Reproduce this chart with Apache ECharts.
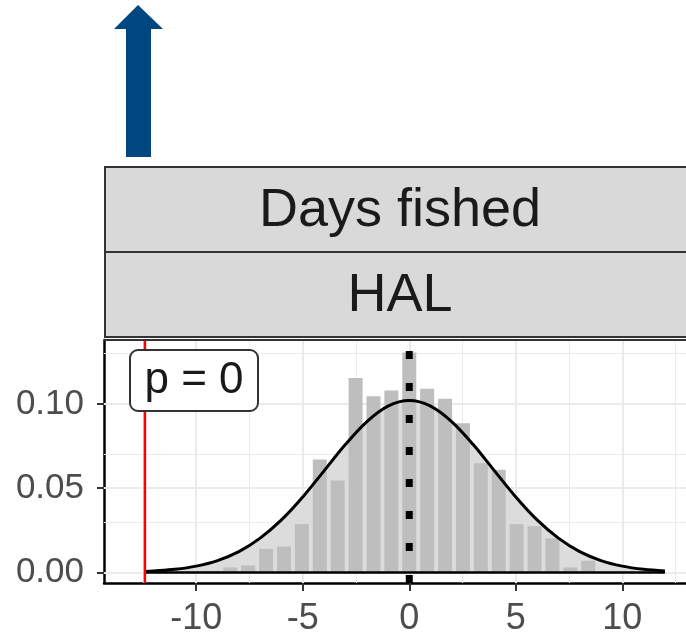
<!DOCTYPE html>
<html>
<head>
<meta charset="utf-8">
<script src="https://cdn.jsdelivr.net/npm/echarts@6/dist/echarts.min.js"></script>
<style>
html,body{margin:0;padding:0;background:#fff;}
#chart{width:686px;height:637px;}
</style>
</head>
<body>
<div id="chart"></div>
<script>
// ---- data ----
const stripLabels = ['Days fished', 'HAL'];
const pLabel = 'p = 0';
const observedValue = -12.41;   // red vertical line
const nullCentre = 0;           // dotted vertical line
const xTicks = [-10, -5, 0, 5, 10];
const xMinor = [-12.5, -7.5, -2.5, 2.5, 7.5, 12.5];
const yTicks = [0, 0.05, 0.10];
const yMinor = [0.025, 0.075, 0.125];
const binCenters = [-9.24, -8.4, -7.56, -6.72, -5.88, -5.04, -4.2, -3.36, -2.52, -1.68, -0.84,
                    0, 0.84, 1.68, 2.52, 3.36, 4.2, 5.04, 5.88, 6.72, 7.56, 8.4];
const binDensity = [0.001, 0.003, 0.0042, 0.014, 0.0154, 0.0287, 0.067, 0.0546, 0.1154, 0.1046, 0.108,
                    0.1305, 0.109, 0.103, 0.0885, 0.0648, 0.061, 0.0287, 0.0275, 0.0203, 0.003, 0.007];
const curveX = [-12.4, -12, -11, -10, -9, -8, -7, -6, -5, -4, -3, -2, -1, 0,
                1, 2, 3, 4, 5, 6, 7, 8, 9, 10, 11, 12];
const curveY = [0.0006, 0.0009, 0.0019, 0.0038, 0.0071, 0.0124, 0.0204, 0.0312, 0.0448, 0.0603, 0.0759, 0.0894, 0.0987, 0.102,
                0.0987, 0.0894, 0.0759, 0.0603, 0.0448, 0.0312, 0.0204, 0.0124, 0.0071, 0.0038, 0.0019, 0.0009];

const FONT = "'Liberation Sans', Arial, sans-serif";
const X_MIN = -14.33, X_MAX = 12.99, Y_MIN = -0.0062, Y_MAX = 0.1379;
const curveData = curveX.map((x, i) => [x, curveY[i]]);
const barData = binCenters.map((x, i) => [x, binDensity[i]]);

const chart = echarts.init(document.getElementById('chart'), null, {renderer: 'canvas'});

const gridLineStyleMajor = {color: '#ebebeb', width: 2, type: 'solid'};
const gridLineStyleMinor = {color: '#ebebeb', width: 1, type: 'solid'};

const option = {
  animation: false,
  backgroundColor: '#ffffff',
  grid: {left: 104, right: 0, top: 340, bottom: 52, show: false},
  xAxis: {
    type: 'value', min: X_MIN, max: X_MAX,
    axisLine: {show: true, onZero: false, lineStyle: {color: '#000', width: 2.5}},
    axisTick: {show: true, customValues: xTicks, length: 8, lineStyle: {color: '#333', width: 2}},
    axisLabel: {show: true, customValues: xTicks, margin: 18, color: '#4d4d4d',
                fontSize: 36, fontFamily: FONT, formatter: v => String(v)},
    splitLine: {show: false}
  },
  yAxis: {
    type: 'value', min: Y_MIN, max: Y_MAX,
    axisLine: {show: true, onZero: false, lineStyle: {color: '#000', width: 2.5}},
    axisTick: {show: true, customValues: yTicks, length: 7, lineStyle: {color: '#333', width: 2}},
    axisLabel: {show: true, customValues: yTicks, margin: 20, color: '#4d4d4d',
                fontSize: 35, fontFamily: FONT, formatter: v => v.toFixed(2)},
    splitLine: {show: false}
  },
  series: [
    { // panel grid lines
      type: 'line', data: [], z: 1, silent: true, symbol: 'none',
      markLine: {
        silent: true, symbol: 'none', z: 1, animation: false, label: {show: false},
        data: [
          ...xTicks.map(v => ({xAxis: v, lineStyle: gridLineStyleMajor})),
          ...xMinor.map(v => ({xAxis: v, lineStyle: gridLineStyleMinor})),
          ...yTicks.map(v => ({yAxis: v, lineStyle: gridLineStyleMajor})),
          ...yMinor.map(v => ({yAxis: v, lineStyle: gridLineStyleMinor}))
        ]
      }
    },
    { // area under fitted density
      type: 'line', data: curveData, z: 2, silent: true, symbol: 'none', smooth: 0.35,
      lineStyle: {width: 0, opacity: 0},
      areaStyle: {color: '#dcdcdc', opacity: 1, origin: 'auto'}
    },
    { // histogram bars
      type: 'bar', data: barData, z: 3, silent: true, barWidth: 14,
      itemStyle: {color: '#bebebe'}
    },
    { // fitted density outline
      type: 'line', data: curveData, z: 4, silent: true, symbol: 'none', smooth: 0.35,
      lineStyle: {color: '#000', width: 3}
    },
    { // baseline of density polygon
      type: 'line', data: [[curveX[0], 0], [curveX[curveX.length - 1], 0]], z: 4, silent: true, symbol: 'none',
      lineStyle: {color: '#000', width: 2.5}
    },
    { // observed value
      type: 'line', data: [[observedValue, Y_MIN], [observedValue, Y_MAX]], z: 5, silent: true, symbol: 'none',
      lineStyle: {color: '#ff0000', width: 2.5}
    },
    { // null centre dotted line
      type: 'line', data: [[nullCentre, Y_MIN], [nullCentre, Y_MAX]], z: 6, silent: true, symbol: 'none',
      lineStyle: {color: '#000', width: 7, type: [8, 24], cap: 'butt'}
    }
  ],
  graphic: [
    { // arrow
      type: 'polygon', z: 100,
      shape: {points: [[138, 5], [163, 29], [151, 29], [151, 157], [126, 157], [126, 29], [114, 29]]},
      style: {fill: '#00467f'}
    },
    { // panel top border
      type: 'line', z: 100, shape: {x1: 104, y1: 340, x2: 690, y2: 340},
      style: {stroke: '#333333', lineWidth: 2}
    },
    {type: 'rect', z: 100, shape: {x: 105, y: 167, width: 620, height: 85},
     style: {fill: '#d9d9d9', stroke: '#333333', lineWidth: 2}},
    {type: 'rect', z: 100, shape: {x: 105, y: 252, width: 620, height: 85},
     style: {fill: '#d9d9d9', stroke: '#333333', lineWidth: 2}},
    {type: 'text', z: 101, x: 400, y: 211,
     style: {text: stripLabels[0], fill: '#1a1a1a', font: '54px ' + FONT, textAlign: 'center', textVerticalAlign: 'middle'}},
    {type: 'text', z: 101, x: 400, y: 296,
     style: {text: stripLabels[1], fill: '#1a1a1a', font: '54px ' + FONT, textAlign: 'center', textVerticalAlign: 'middle'}},
    {type: 'rect', z: 100, shape: {x: 130, y: 350, width: 128, height: 61, r: 8},
     style: {fill: '#ffffff', stroke: '#333333', lineWidth: 2}},
    {type: 'text', z: 101, x: 194, y: 381,
     style: {text: pLabel, fill: '#1a1a1a', font: '44px ' + FONT, textAlign: 'center', textVerticalAlign: 'middle'}}
  ]
};
chart.setOption(option);
</script>
</body>
</html>
